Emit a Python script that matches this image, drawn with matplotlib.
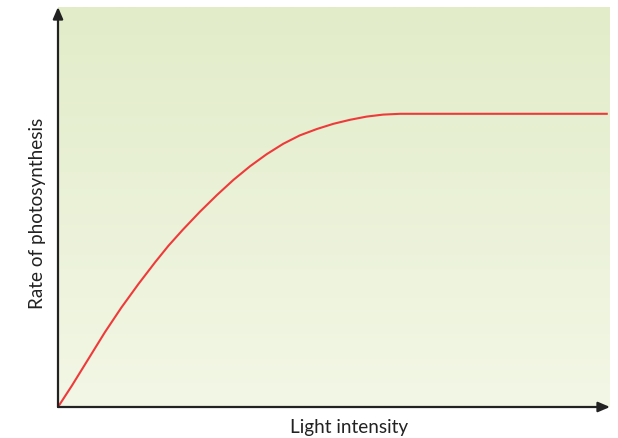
"""Light intensity vs rate of photosynthesis (sketch curve)"""
import numpy as np
import matplotlib
matplotlib.use("Agg")
import matplotlib.pyplot as plt
from matplotlib.colors import LinearSegmentedColormap

# curve (arbitrary units 0-100)
light = [0, 2.5, 5.5, 8.5, 11.5, 14.6, 17.6, 20.0, 22.6, 25.7, 28.8, 31.8,
         34.8, 37.8, 40.8, 43.8, 46.9, 49.9, 52.9, 55.9, 58.9, 62.0, 63.8, 99.6]
rate = [0, 5.3, 12.0, 18.7, 24.9, 30.8, 36.2, 40.3, 44.3, 48.8, 53.0, 56.8,
        60.2, 63.2, 65.8, 67.9, 69.5, 70.8, 71.8, 72.6, 73.1, 73.3, 73.3, 73.3]

x_label = "Light intensity"
y_label = "Rate of photosynthesis"

plt.rcParams["font.family"] = ["Lato", "DejaVu Sans"]

fig = plt.figure(figsize=(6.18, 4.39), dpi=100)
ax = fig.add_axes([58 / 618, 31 / 439, 552 / 618, 400 / 439])
ax.set_xlim(0, 100)
ax.set_ylim(0, 100)

# background gradient, darker green at the top
cmap = LinearSegmentedColormap.from_list("bg", ["#f3f7e6", "#e2ecc9"])
grad = np.linspace(0, 1, 256).reshape(-1, 1)
ax.imshow(grad, extent=[0, 100, 0, 100], origin="lower", aspect="auto",
          cmap=cmap, zorder=0)

ax.plot(light, rate, color="#ee3a3a", lw=1.5, zorder=3,
        solid_joinstyle="round", solid_capstyle="butt")

for s in ax.spines.values():
    s.set_visible(False)
ax.set_xticks([])
ax.set_yticks([])

# axes with arrow heads
arrow = dict(arrowstyle="-|>,head_length=0.7,head_width=0.3", color="#222222",
             lw=1.6, shrinkA=0, shrinkB=0)
ax.annotate("", xy=(1, 0), xytext=(0, 0), xycoords="axes fraction",
            arrowprops=arrow, annotation_clip=False, zorder=5)
ax.annotate("", xy=(0, 1), xytext=(0, 0), xycoords="axes fraction",
            arrowprops=arrow, annotation_clip=False, zorder=5)

fig.text(349 / 618, 1 - 428 / 439, x_label, ha="center", va="center",
         fontsize=13.6, color="#222222")
fig.text(38 / 618, 1 - 213 / 439, y_label, ha="center", va="center",
         rotation=90, fontsize=13.6, color="#222222")

fig.savefig("out.png", dpi=100)
